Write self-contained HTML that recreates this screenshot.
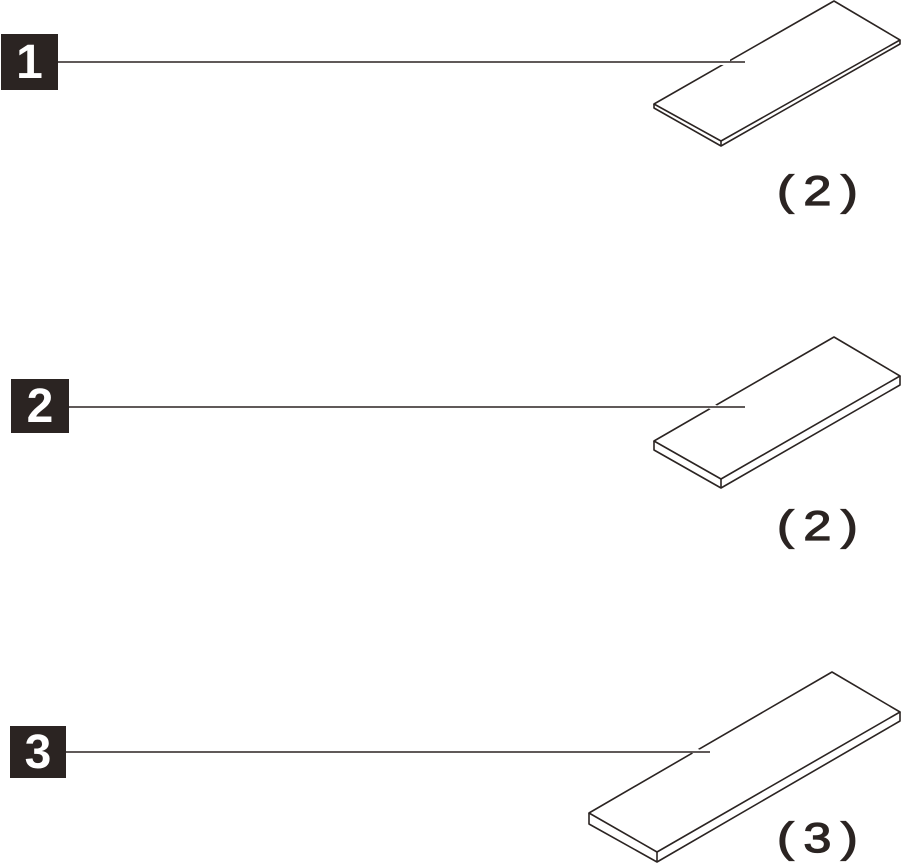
<!DOCTYPE html>
<html><head><meta charset="utf-8"><style>
body{margin:0;background:#fff;width:902px;height:864px;overflow:hidden;position:relative}
.b{position:absolute;background:#2b2422;color:#fff;font:bold 48px "Liberation Sans",sans-serif;text-align:center}
.q{position:absolute;font:42px "Liberation Sans",sans-serif;color:#2b2422;letter-spacing:8px;-webkit-text-stroke:1.2px #2b2422;transform:scaleX(1.2);transform-origin:0 0}
</style></head><body>
<svg width="902" height="864" style="position:absolute;left:0;top:0" fill="none" stroke="#2b2422" stroke-width="1.6" stroke-linejoin="round">
<polygon points="834,1 900,40 721,141 654,104" fill="#fff"/>
<polyline points="654,104 654,108 721,146 900,44 900,40"/>
<line x1="721" y1="141" x2="721" y2="146"/>
<line x1="718" y1="62" x2="730" y2="62" stroke="#fff" stroke-width="6"/>
<line x1="58" y1="62" x2="745" y2="62"/>
<polygon points="834,337 900,376 721,479 654,441" fill="#fff"/>
<polyline points="654,441 654,450 721,488 900,385 900,376"/>
<line x1="721" y1="479" x2="721" y2="488"/>
<line x1="706" y1="404" x2="720" y2="410" stroke="#fff" stroke-width="6"/>
<line x1="69" y1="407" x2="745" y2="407"/>
<polygon points="832,672 900,712 657,852 589,813" fill="#fff"/>
<polyline points="589,813 589,824 657,862 900,721 900,712"/>
<line x1="657" y1="852" x2="657" y2="862"/>
<line x1="690" y1="749" x2="705" y2="755" stroke="#fff" stroke-width="6"/>
<line x1="66" y1="752" x2="710" y2="752"/>
</svg>
<div class="b" style="left:1px;top:34px;width:57px;height:56px;line-height:58px">1</div>
<div class="b" style="left:11px;top:379px;width:58px;height:54px;line-height:56px">2</div>
<div class="b" style="left:10px;top:726px;width:56px;height:52px;line-height:54px">3</div>
<div class="q" style="left:777px;top:167px">(2)</div>
<div class="q" style="left:777px;top:502px">(2)</div>
<div class="q" style="left:777px;top:814px">(3)</div>
</body></html>
